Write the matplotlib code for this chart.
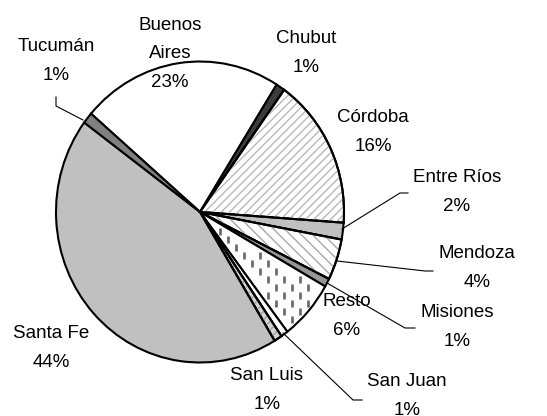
import numpy as np
import matplotlib.pyplot as plt
from matplotlib.patches import Wedge
from matplotlib.transforms import Affine2D

plt.rcParams['font.family'] = ['Liberation Sans', 'DejaVu Sans']

# ── Data ──────────────────────────────────────────────────────────────────────
provinces = ["Buenos\nAires", "Chubut", "Córdoba", "Entre Ríos", "Mendoza",
             "Misiones", "Resto", "San Juan", "San Luis", "Santa Fe", "Tucumán"]
shares = [22.6, 1.0, 16.2, 1.8, 4.4, 0.9, 6.4, 0.8, 0.9, 43.8, 1.2]
pct_labels = ["23%", "1%", "16%", "2%", "4%", "1%", "6%", "1%", "1%", "44%", "1%"]

# ── Styling ───────────────────────────────────────────────────────────────────
faces = ['white', '#3c3c3c', 'white', '#c0c0c0', 'white', '#969696',
         'white', 'white', '#d4d4d4', '#c0c0c0', '#808080']
hatches = [None, None, '////', None, '\\\\\\', None, None, None, '////', None, None]
hatch_cols = [None, None, '#b8b8b8', None, '#a8a8a8', None, None, None, '#a0a0a0', None, None]

W, H = 547, 416
cx, cy = 200, H - 212
r = 144
ky = 150.5 / 144  # slight vertical stretch
EDGE_LW = 1.5

fig = plt.figure(figsize=(W / 100, H / 100), dpi=100)
ax = fig.add_axes([0, 0, 1, 1])

wedges, _ = ax.pie(shares, colors=faces, startangle=139.2, counterclock=False,
                   center=(cx, cy), radius=r,
                   wedgeprops=dict(edgecolor='black', linewidth=EDGE_LW))
ax.set_xlim(0, W)
ax.set_ylim(0, H)
ax.set_aspect('auto')
ax.axis('off')

stretch = Affine2D().translate(-cx, -cy).scale(1, ky).translate(cx, cy) + ax.transData
for w in wedges:
    w.set_transform(stretch)
    w.set_zorder(1)

# hatch overlays, then outlines on top
for w, h, hc in zip(wedges, hatches, hatch_cols):
    if h is None:
        continue
    ax.add_patch(Wedge((cx, cy), r, w.theta1, w.theta2, fill=False, hatch=h,
                       edgecolor=hc, linewidth=0, transform=stretch, zorder=2))
    ax.add_patch(Wedge((cx, cy), r, w.theta1, w.theta2, fill=False,
                       edgecolor='black', linewidth=EDGE_LW, transform=stretch, zorder=4))

# Resto: staggered vertical dashes, kept inside the wedge
resto = wedges[provinces.index("Resto")]
t1, t2 = resto.theta1 % 360, resto.theta2 % 360
for k, xv in enumerate(np.arange(cx + 4, cx + r, 8)):
    off = 0 if k % 2 == 0 else 8
    for yv in np.arange(cy - r * ky + off, cy, 16):
        ok = True
        for yy in (yv, yv + 7):
            dx, dy = xv - cx, (yy - cy) / ky
            ang = np.degrees(np.arctan2(dy, dx)) % 360
            rad = np.hypot(dx, dy)
            if not (t1 + 1.5 < ang < t2 - 1.5 and 6 < rad < r - 3):
                ok = False
        if ok:
            ax.plot([xv, xv], [yv, yv + 7], color='#6a6a6a', lw=2,
                    solid_capstyle='butt', zorder=3)

# ── Labels (pixel positions, y from top) ──────────────────────────────────────
label_pos = {
    "Buenos\nAires": (170, 54),
    "Chubut": (306, 53),
    "Córdoba": (373, 132),
    "Entre Ríos": (457, 192),
    "Mendoza": (477, 268),
    "Misiones": (457, 327),
    "Resto": (347, 316),
    "San Juan": (407, 396),
    "San Luis": (267, 390),
    "Santa Fe": (51, 348),
    "Tucumán": (56, 61),
}
for name, pct in zip(provinces, pct_labels):
    px, py = label_pos[name]
    ax.text(px, H - py, f"{name}\n{pct}", ha='center', va='center',
            fontsize=13.5, linespacing=1.85, zorder=6)

# leader lines
leaders = [
    [(83, 120), (56, 106), (56, 97)],
    [(342, 229), (400, 193), (408, 193)],
    [(337, 261), (425, 271), (433, 271)],
    [(327, 283), (405, 328), (415, 328)],
    [(283, 333), (353, 400), (362, 400)],
]
for pts in leaders:
    xs = [p[0] for p in pts]
    ys = [H - p[1] for p in pts]
    ax.plot(xs, ys, color='black', lw=0.8, zorder=5)

fig.savefig("out.png", dpi=100)
